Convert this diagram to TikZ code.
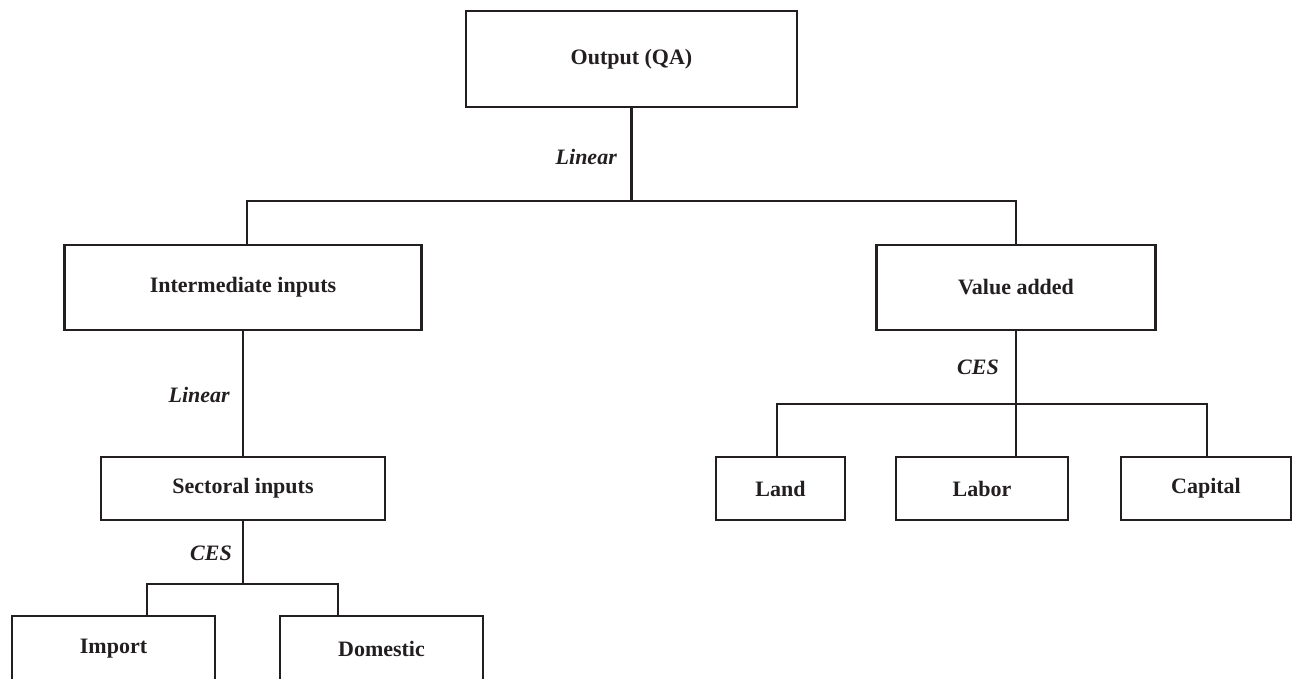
\documentclass[tikz,border=0pt]{standalone}
\usepackage{fontspec}
\setmainfont{Liberation Serif}
\definecolor{ink}{RGB}{35,31,32}
\begin{document}
\begin{tikzpicture}[x=1pt,y=-1pt,
  box/.style={draw=ink, line width=2.6pt, rectangle, inner sep=0pt,
    font=\fontsize{22}{26}\selectfont\bfseries, text=ink},
  lbl/.style={font=\fontsize{22}{26}\selectfont\bfseries\itshape, text=ink,
    anchor=east, inner sep=0pt},
  conn/.style={draw=ink, line width=2.6pt, line join=miter}]
\useasboundingbox (0,0) rectangle (1293,679);
% boxes
\node[box, minimum width=331pt, minimum height=96pt] (out) at (631.5,59) {Output (QA)};
\node[box, minimum width=357pt, minimum height=85pt] (ii) at (243,287.5) {Intermediate inputs};
\node[box, minimum width=279pt, minimum height=85pt] (va) at (1016,287.5) {Value added};
\node[box, minimum width=284pt, minimum height=63pt] (si) at (243,488.5) {Sectoral inputs};
\node[box, minimum width=129pt, minimum height=63pt] (land) at (780.5,488.5) {Land};
\node[box, minimum width=172pt, minimum height=63pt] (lab) at (982,488.5) {Labor};
\node[box, minimum width=170pt, minimum height=63pt] (cap) at (1206,488.5) {Capital};
\node[box, minimum width=203pt, minimum height=65pt] (imp) at (113.5,648.5) {Import};
\node[box, minimum width=203pt, minimum height=65pt] (dom) at (381.5,648.5) {Domestic};
% junction coordinates
\coordinate (tL) at (247,201);
\coordinate (tR) at (1016,201);
\coordinate (sL) at (147,584);
\coordinate (sR) at (338,584);
\coordinate (vL) at (777,404);
\coordinate (vR) at (1207,404);
% connectors
\draw[conn] (out.south) -- (out.south |- tL);
\draw[conn] (tL |- ii.north) -- (tL) -- (tR) -- (tR |- va.north);
\draw[conn] (ii.south) -- (si.north);
\draw[conn] (si.south) -- (si.south |- sL);
\draw[conn] (sL |- imp.north) -- (sL) -- (sR) -- (sR |- dom.north);
\draw[conn] (va.south) -- (va.south |- lab.north);
\draw[conn] (vL |- land.north) -- (vL) -- (vR) -- (vR |- cap.north);
% labels
\node[lbl] (l1) at (617,157) {Linear};
\node[lbl] (l2) at (230,395) {Linear};
\node[lbl] (l3) at (232,553) {CES};
\node[lbl] (l4) at (999,367) {CES};
\end{tikzpicture}
\end{document}
